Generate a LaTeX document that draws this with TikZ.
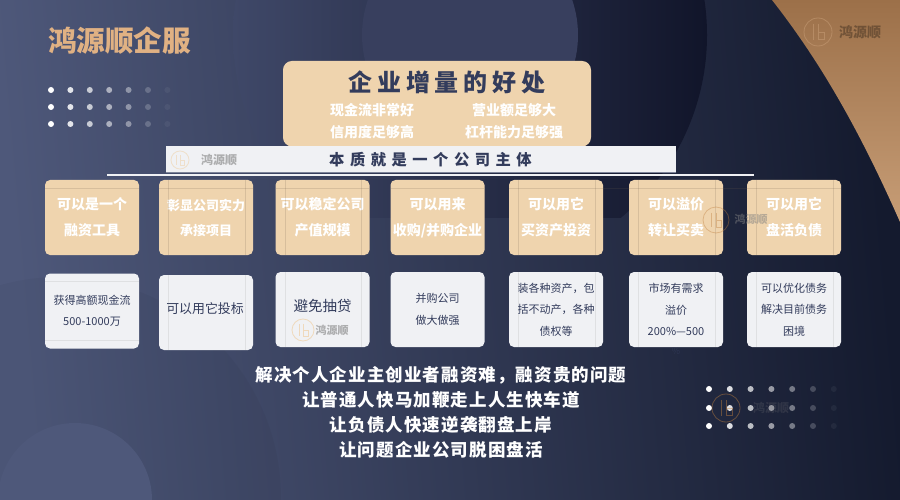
\documentclass[tikz,border=0pt]{standalone}
\usepackage{fontspec}
\setmainfont{Noto Sans CJK SC}
\newfontfamily\titlefont[LetterSpace=20]{Noto Sans CJK SC}
\newfontfamily\bandfont[LetterSpace=36]{Noto Sans CJK SC}
\newfontfamily\closefont[LetterSpace=6.3]{Noto Sans CJK SC}
\usepackage{xcolor}
\usepackage{tikz}
\definecolor{tanbox}{HTML}{EFD4AE}
\definecolor{paper}{HTML}{F0F1F4}
\definecolor{navy}{HTML}{333C5C}
\definecolor{slate}{HTML}{4E587A}
\definecolor{slatemid}{HTML}{3A4262}
\definecolor{ink}{HTML}{141A2E}
\definecolor{inkdeep}{HTML}{11152A}
\definecolor{slatesoft}{HTML}{3F4868}
\definecolor{disc}{HTML}{383F5E}
\definecolor{copper}{HTML}{9C7049}
\definecolor{copperpale}{HTML}{C79D76}
\definecolor{brandtan}{HTML}{E0B183}
\tikzset{topbox/.style={fill=tanbox, rounded corners=5pt, minimum width=94pt, minimum height=75pt, inner sep=0pt, outer sep=0pt, align=center, text=white, font=\bfseries\fontsize{14}{26}\selectfont},
lowbox/.style={fill=paper, rounded corners=5pt, minimum width=94pt, minimum height=75pt, inner sep=0pt, outer sep=0pt, align=center, text=navy, font=\fontsize{11}{21.5}\selectfont},
gain/.style={text=white, inner sep=0pt, font=\bfseries\fontsize{14}{14}\selectfont},
closing/.style={text=white, inner sep=0pt, font=\closefont\bfseries\fontsize{17.5}{18}\selectfont},
wmark/.style={text=gray, inner sep=0pt, font=\bfseries\fontsize{#1}{#1}\selectfont},
wmark/.default={12},
guideT/.style={draw=black!55!tanbox, opacity=0.18, line width=0.7pt},
guideL/.style={draw=gray, opacity=0.15, line width=0.7pt}}
\newcommand{\emblem}[5]{\begin{scope}[shift={(#1,#2)}, draw=#4, opacity=#5, line width=0.8pt]
\draw (0,0) circle (#3);
\draw (-0.35*#3,-0.55*#3) -- (-0.35*#3,0.55*#3);
\draw (0,-0.55*#3) -- (0,0.55*#3) -- (0.45*#3,0.55*#3) -- (0.45*#3,0) -- (0,0);
\end{scope}}

\begin{document}
\begin{tikzpicture}[x=1pt, y=-1pt]
\useasboundingbox (0,0) rectangle (900,500);
% backdrop
\shade[left color=slate, middle color=slatemid, right color=ink, shading angle=95] (0,0) rectangle (900,500);
\begin{scope}
\clip (0,0) rectangle (900,217);
\clip (470,35) circle (237);
\shade[left color=slatesoft, right color=inkdeep, shading angle=90] (233,0) rectangle (707,217);
\end{scope}
\fill[black, opacity=0.03] (60,498) circle (221);
\fill[slate] (75,500) circle (77);
\fill[disc] (470,35) circle (108);
\shade[top color=copper, bottom color=copperpale] (772,0) .. controls (815,55) and (855,120) .. (900,222) -- (900,0) -- cycle;
% dots
\foreach \dx/\op in {0/1,1/0.85,2/0.7,3/0.55,4/0.4,5/0.2,6/0.05}
  \foreach \dy in {90,107,124}
    \fill[white, opacity=\op] (51+19.4*\dx,\dy) circle (3);
\foreach \dx/\op in {0/1,1/0.85,2/0.7,3/0.55,4/0.4,5/0.2,6/0.05}
  \foreach \dy in {389,408,426}
    \fill[white, opacity=\op] (709+20.8*\dx,\dy) circle (3);
% brand
\node[text=brandtan, inner sep=0pt, font=\bfseries\fontsize{28.6}{29}\selectfont] (brand) at (119.5,41) {鸿源顺企服};
\emblem{818}{32}{14}{copperpale}{0.55}
\node[wmark=14, opacity=0.3, text=black] (markA) at (860,32) {鸿源顺};
% headline box
\node[fill=tanbox, rounded corners=9pt, minimum width=308pt, minimum height=85.5pt, inner sep=0pt] (head) at (437,103.7) {};
\node[text=navy, inner sep=0pt, font=\titlefont\bfseries\fontsize{24}{24}\selectfont] (headT) at (447,82) {企业增量的好处};
\node[gain] (gainA) at (372,110) {现金流非常好};
\node[gain] (gainB) at (372,132) {信用度足够高};
\node[gain] (gainC) at (514,110) {营业额足够大};
\node[gain] (gainD) at (514,132) {杠杆能力足够强};
% band
\node[fill=paper, minimum width=510pt, minimum height=26.5pt, inner sep=0pt] (band) at (421,159.2) {};
\node[text=navy, inner sep=0pt, font=\bandfont\bfseries\fontsize{15.3}{16}\selectfont] (bandT) at (430.5,160) {本质就是一个公司主体};
\draw[navy!60!paper, line width=0.8pt] (166,172.6) -- (676,172.6);
\emblem{180}{160}{9}{tanbox}{0.6}
\node[wmark=12, opacity=0.6] (markB) at (219,160) {鸿源顺};
\draw[paper, line width=2pt] (107,175.5) -- (754,175.5);
% upper row
\node[topbox] (upA) at (92,217.5) {可以是一个\\融资工具};
\node[topbox, font=\bfseries\fontsize{13}{25}\selectfont] (upB) at (206,217.5) {彰显公司实力\\承接项目};
\node[topbox] (upC) at (322.5,217.5) {可以稳定公司\\产值规模};
\node[topbox] (upD) at (437.5,217.5) {可以用来\\收购/并购企业};
\node[topbox] (upE) at (556,217.5) {可以用它\\买资产投资};
\node[topbox] (upF) at (676,217.5) {可以溢价\\转让买卖};
\node[topbox] (upG) at (794,217.5) {可以用它\\盘活负债};
% lower row
\node[lowbox] (lowA) at (92,311) {获得高额现金流\\500-1000万};
\node[lowbox] (lowB) at (206,312.5) {};
\node[text=navy, inner sep=0pt, font=\fontsize{12.9}{14}\selectfont] (lowBT) at (205,309) {可以用它投标};
\node[lowbox] (lowC) at (322.5,309.5) {};
\node[text=navy, inner sep=0pt, font=\fontsize{14.5}{15}\selectfont] (lowCT) at (322.5,306) {避免抽贷};
\node[lowbox] (lowD) at (437.5,309.5) {并购公司\\做大做强};
\node[lowbox] (lowE) at (556,309.5) {装各种资产，包\\括不动产，各种\\债权等};
\node[lowbox] (lowF) at (676,309.5) {市场有需求\\溢价\\200\%—500};
\node[lowbox] (lowG) at (794,309.5) {可以优化债务\\解决目前债务\\困境};
\node[text=navy, opacity=0.6, inner sep=0pt, font=\fontsize{9}{9}\selectfont] (pct) at (676,351.5) {\%};
% stray guides
\foreach \xa/\xb in {168/245,285/361,518/595,638/715,756/833} {
  \draw[guideT] (\xa,180) -- (\xa,255);
  \draw[guideT] (\xb,180) -- (\xb,255);
}
\foreach \xa/\xb/\ya/\yb in {168/245/275/350,285/361/272/347,518/595/272/347,638/715/272/347,756/833/272/347} {
  \draw[guideL] (\xa,\ya) -- (\xa,\yb);
  \draw[guideL] (\xb,\ya) -- (\xb,\yb);
}
\draw[guideT] (45,188.5) -- (139,188.5);
\draw[guideT] (159,188.5) -- (253,188.5);
\draw[guideT] (276,188.5) -- (369,188.5);
\draw[guideT] (391,188.5) -- (484,188.5);
\draw[guideT] (509,188.5) -- (841,188.5);
\draw[guideL] (45,281.5) -- (139,281.5);
\draw[guideL] (45,340) -- (139,340);
% marks over the cards
\emblem{303}{330}{11}{tanbox}{0.8}
\node[wmark=11, opacity=0.6] (markC) at (332,330) {鸿源顺};
\emblem{716}{220}{13}{brown}{0.4}
\node[wmark=11, opacity=0.5] (markD) at (751,219) {鸿源顺};
\emblem{726}{408}{14}{brown}{0.45}
\node[wmark=12, opacity=0.2] (markE) at (771,408) {鸿源顺};
% closing lines
\node[closing] (lineA) at (441,375) {解决个人企业主创业者融资难，融资贵的问题};
\node[closing] (lineB) at (441,400) {让普通人快马加鞭走上人生快车道};
\node[closing] (lineC) at (441,425) {让负债人快速逆袭翻盘上岸};
\node[closing] (lineD) at (441,450) {让问题企业公司脱困盘活};
\end{tikzpicture}
\end{document}
